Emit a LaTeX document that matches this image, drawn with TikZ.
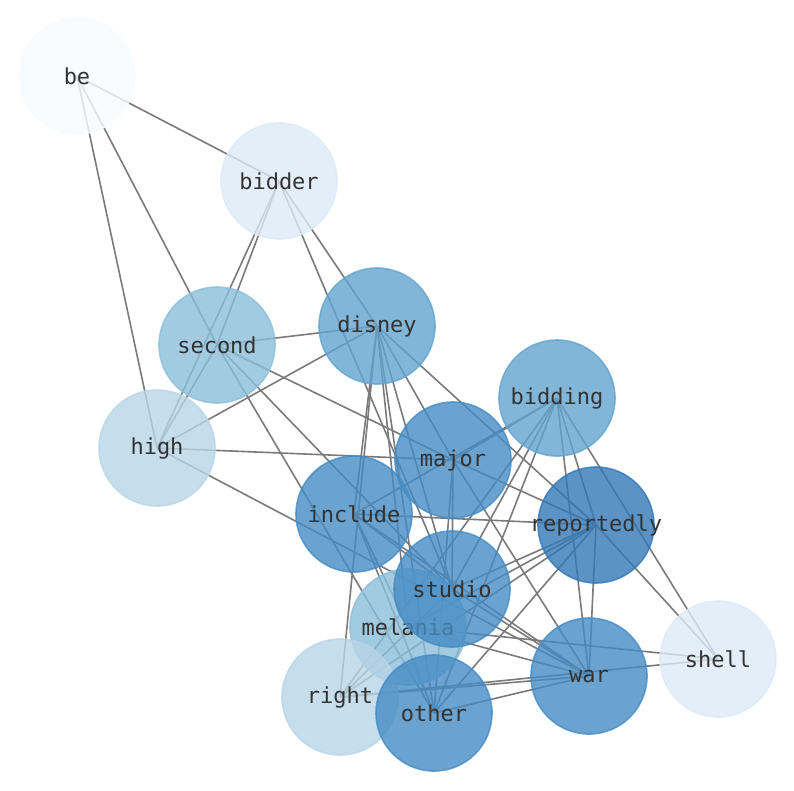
\documentclass[tikz,border=0pt]{standalone}
\usepackage{fontspec}
\setmonofont{DejaVu Sans Mono}
\usetikzlibrary{backgrounds}
\definecolor{tone0}{RGB}{247,251,255}
\definecolor{tone1}{RGB}{220,234,246}
\definecolor{tone2}{RGB}{184,213,231}
\definecolor{tone3}{RGB}{139,190,219}
\definecolor{tone4}{RGB}{99,164,207}
\definecolor{tone5}{RGB}{69,140,196}
\definecolor{tone6}{RGB}{50,120,183}
\newcommand{\wlabel}[1]{\makebox[0pt]{#1}}
\tikzset{word/.style={circle, minimum size=116pt, inner sep=0pt, line width=1.6pt,
    fill=#1, draw=#1, fill opacity=0.8, draw opacity=0.8, text opacity=1,
    text=black!80, font=\ttfamily\fontsize{22}{26}\selectfont},
  link/.style={draw=black!52, line width=1.6pt}}

\begin{document}
\begin{tikzpicture}[x=1pt, y=-1pt]
\useasboundingbox (0,0) rectangle (794,790);
\node[word=tone0] (be) at (77,76) {\wlabel{be}};
\node[word=tone1] (bidder) at (279,181) {\wlabel{bidder}};
\node[word=tone3] (second) at (217,345) {\wlabel{second}};
\node[word=tone4] (disney) at (377,326) {\wlabel{disney}};
\node[word=tone2] (high) at (157,448) {\wlabel{high}};
\node[word=tone4] (bidding) at (557,398) {\wlabel{bidding}};
\node[word=tone5] (include) at (354,514) {\wlabel{include}};
\node[word=tone5] (major) at (453,460) {\wlabel{major}};
\node[word=tone6] (reportedly) at (596,525) {\wlabel{reportedly}};
\node[word=tone3] (melania) at (408,627) {\wlabel{melania}};
\node[word=tone2] (right) at (340,697) {\wlabel{right}};
\node[word=tone5] (studio) at (452,589) {\wlabel{studio}};
\node[word=tone5] (other) at (434,713) {\wlabel{other}};
\node[word=tone5] (war) at (589,676) {\wlabel{war}};
\node[word=tone1] (shell) at (718,659) {\wlabel{shell}};
\begin{scope}[on background layer]
\foreach \i/\j in {be/bidder, be/second, be/high,
  bidder/second, bidder/high, bidder/disney, bidder/studio,
  second/disney, second/high, second/major, second/studio, second/other,
  disney/high, disney/right, disney/melania, disney/other, disney/studio,
  disney/major, disney/reportedly, disney/include,
  high/major, high/war,
  bidding/include, bidding/major, bidding/war, bidding/reportedly,
  bidding/shell, bidding/right, bidding/other, bidding/studio,
  major/reportedly, major/war, major/studio, major/other,
  include/reportedly, include/war, include/other, include/melania, include/studio,
  reportedly/shell, reportedly/war, reportedly/studio, reportedly/melania,
  reportedly/right, reportedly/other,
  studio/war, studio/right,
  melania/shell, melania/war,
  right/war, right/shell, other/war}
{
  \draw[link] (\i.center) to (\j.center);
}
\end{scope}
\end{tikzpicture}
\end{document}
